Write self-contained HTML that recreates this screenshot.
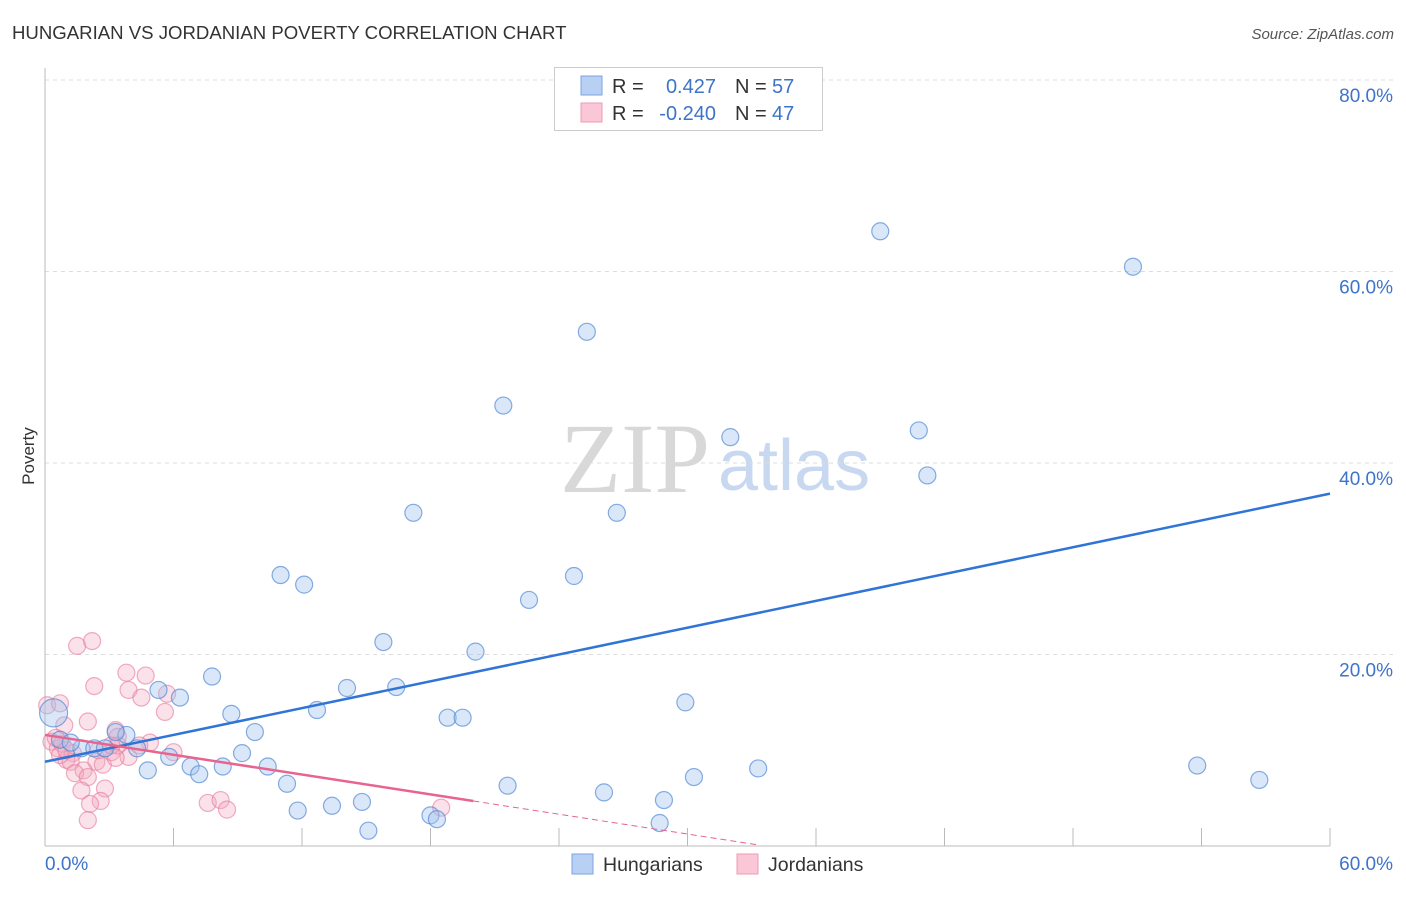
<!DOCTYPE html>
<html><head><meta charset="utf-8"><style>
body{margin:0;background:#fff;font-family:"Liberation Sans",sans-serif;}
svg text{font-family:"Liberation Sans",sans-serif;}
</style></head><body>
<svg id="chart" width="1406" height="892" xmlns="http://www.w3.org/2000/svg">
<text x="12" y="39" font-size="18.6" fill="#333">HUNGARIAN VS JORDANIAN POVERTY CORRELATION CHART</text>
<text x="1394" y="39" font-size="15" fill="#555" font-style="italic" text-anchor="end">Source: ZipAtlas.com</text>
<g>
<text x="635" y="492" font-size="100" fill="#d8d8d8" font-family="Liberation Serif" text-anchor="middle" style="font-family:'Liberation Serif',serif">ZIP</text>
<text x="718" y="490" font-size="72" fill="#c8d8f0">atlas</text>
</g>
<g id="grid"></g>
<g id="axes"></g>
<g id="points"></g>
<g id="trends"></g>
<text x="34" y="456" font-size="17" fill="#333" text-anchor="middle" transform="rotate(-90 34 456)">Poverty</text>
<g>
<rect x="554.5" y="67.5" width="268" height="63" fill="#fff" stroke="#ccc"/>
<rect x="581" y="76" width="21" height="19" fill="#b7d0f3" stroke="#7ea6e0"/>
<rect x="581" y="103" width="21" height="19" fill="#fbc6d5" stroke="#ee9bb4"/>
<text x="612" y="93" font-size="20" fill="#333">R =</text>
<text x="716" y="93" font-size="20" fill="#3d74c9" text-anchor="end">0.427</text>
<text x="735" y="93" font-size="20" fill="#333">N =</text>
<text x="772" y="93" font-size="20" fill="#3d74c9">57</text>
<text x="612" y="120" font-size="20" fill="#333">R =</text>
<text x="716" y="120" font-size="20" fill="#3d74c9" text-anchor="end">-0.240</text>
<text x="735" y="120" font-size="20" fill="#333">N =</text>
<text x="772" y="120" font-size="20" fill="#3d74c9">47</text>
</g>
<g>
<rect x="572" y="854" width="21" height="20" fill="#b7d0f3" stroke="#7ea6e0"/>
<text x="603" y="871" font-size="19.5" fill="#333">Hungarians</text>
<rect x="737" y="854" width="21" height="20" fill="#fbc6d5" stroke="#ee9bb4"/>
<text x="768" y="871" font-size="19.5" fill="#333">Jordanians</text>
</g>
</svg>
<script>
const xTicks=[0,60];
const yTicks=[20,40,60,80];
const hunX=[39.0,50.8,25.3,21.4,32.0,40.8,41.2,17.2,26.7,11.0,12.1,24.7,22.6,15.8,20.1,7.8,5.3,6.3,14.1,16.4,29.9,12.7,8.7,18.8,19.5,9.8,3.8,3.3,0.4,0.7,1.7,2.3,2.8,4.3,9.2,5.8,6.8,4.8,7.2,8.3,10.4,30.3,33.3,53.8,56.7,11.3,21.6,26.1,28.9,14.8,13.4,11.8,18.0,18.3,28.7,15.1,1.2];
const hunY=[64.2,60.5,53.7,46.0,42.7,43.4,38.7,34.8,34.8,28.3,27.3,28.2,25.7,21.3,20.3,17.7,16.3,15.5,16.5,16.6,15.0,14.2,13.8,13.4,13.4,11.9,11.6,11.9,13.9,11.1,10.2,10.2,10.2,10.2,9.7,9.3,8.3,7.9,7.5,8.3,8.3,7.2,8.1,8.4,6.9,6.5,6.3,5.6,4.8,4.6,4.2,3.7,3.2,2.8,2.4,1.6,10.8];
const jorX=[1.5,2.2,2.3,3.8,4.7,3.9,4.5,5.7,5.6,0.1,0.7,2.0,0.9,3.3,3.4,4.9,6.0,0.3,0.6,0.8,1.3,1.0,1.2,2.4,2.7,3.9,3.1,1.8,1.4,2.5,2.0,1.7,2.8,2.6,2.1,2.0,7.6,8.2,8.5,18.5,3.4,0.7,4.4,3.1,0.5,3.3,1.0];
const jorY=[20.9,21.4,16.7,18.1,17.8,16.3,15.5,15.9,14.0,14.7,14.9,13.0,12.6,12.1,11.4,10.8,9.8,10.9,10.2,10.7,9.7,9.0,8.8,8.8,8.5,9.3,9.8,7.9,7.6,10.0,7.2,5.8,6.0,4.7,4.4,2.7,4.5,4.8,3.8,4.0,10.5,9.5,10.5,10.5,11.3,9.2,10.0];
const hunTrend=[8.8,0.4667]; // intercept, slope
const jorTrend=[11.6,-0.345];
const jorSolidEnd=20, jorDashEnd=33.2;
const X=v=>45+v/60*1285;
const Y=v=>846-v/20*191.5;
const NS='http://www.w3.org/2000/svg';
function mk(tag,attrs,parent){const e=document.createElementNS(NS,tag);for(const k in attrs)e.setAttribute(k,attrs[k]);parent.appendChild(e);return e;}
const grid=document.getElementById('grid'),axes=document.getElementById('axes'),pts=document.getElementById('points'),tr=document.getElementById('trends');
yTicks.forEach(t=>{
  const l=mk('line',{x1:45,x2:1394,y1:Y(t),y2:Y(t),stroke:'#ddd','stroke-dasharray':'4,4'},grid);
  
  
  const tx=mk('text',{x:1393,y:Y(t)+22,'font-size':19,fill:'#3d74c9','text-anchor':'end'},axes);
  tx.textContent=t.toFixed(1)+'%';
  
  
});
let a=mk('line',{x1:45,x2:45,y1:68,y2:846,stroke:'#bbb'},axes);


a=mk('line',{x1:45,x2:1330,y1:846,y2:846,stroke:'#bbb'},axes);


for(let i=0;i<=10;i++){
  const t=mk('line',{x1:X(i*6),x2:X(i*6),y1:828,y2:846,stroke:'#bbb'},axes);
  
  
}
xTicks.forEach((t,i)=>{
  const tx=mk('text',{x:i==0?45:1393,y:870,'font-size':19,fill:'#3d74c9','text-anchor':i==0?'start':'end'},axes);
  tx.textContent=t.toFixed(1)+'%';
  
  
});
jorX.forEach((x,i)=>{
  const c=mk('circle',{cx:X(x),cy:Y(jorY[i]),r:8.5,fill:'rgba(244,170,192,0.35)',stroke:'rgba(230,120,155,0.6)','stroke-width':1.2},pts);
  
  
});
hunX.forEach((x,i)=>{
  const c=mk('circle',{cx:X(x),cy:Y(hunY[i]),r:i==28?14:8.5,fill:'rgba(160,195,238,0.4)',stroke:'rgba(70,130,210,0.65)','stroke-width':1.2},pts);
  
  
});
let l=mk('line',{x1:X(0),y1:Y(hunTrend[0]),x2:X(60),y2:Y(hunTrend[0]+60*hunTrend[1]),stroke:'#2f74d6','stroke-width':2.5},tr);


l=mk('line',{x1:X(0),y1:Y(jorTrend[0]),x2:X(jorSolidEnd),y2:Y(jorTrend[0]+jorSolidEnd*jorTrend[1]),stroke:'#e8648e','stroke-width':2.5},tr);


l=mk('line',{x1:X(jorSolidEnd),y1:Y(jorTrend[0]+jorSolidEnd*jorTrend[1]),x2:X(jorDashEnd),y2:Y(jorTrend[0]+jorDashEnd*jorTrend[1]),stroke:'#e8648e','stroke-width':1,'stroke-dasharray':'6,4'},tr);


</script>
</body></html>
